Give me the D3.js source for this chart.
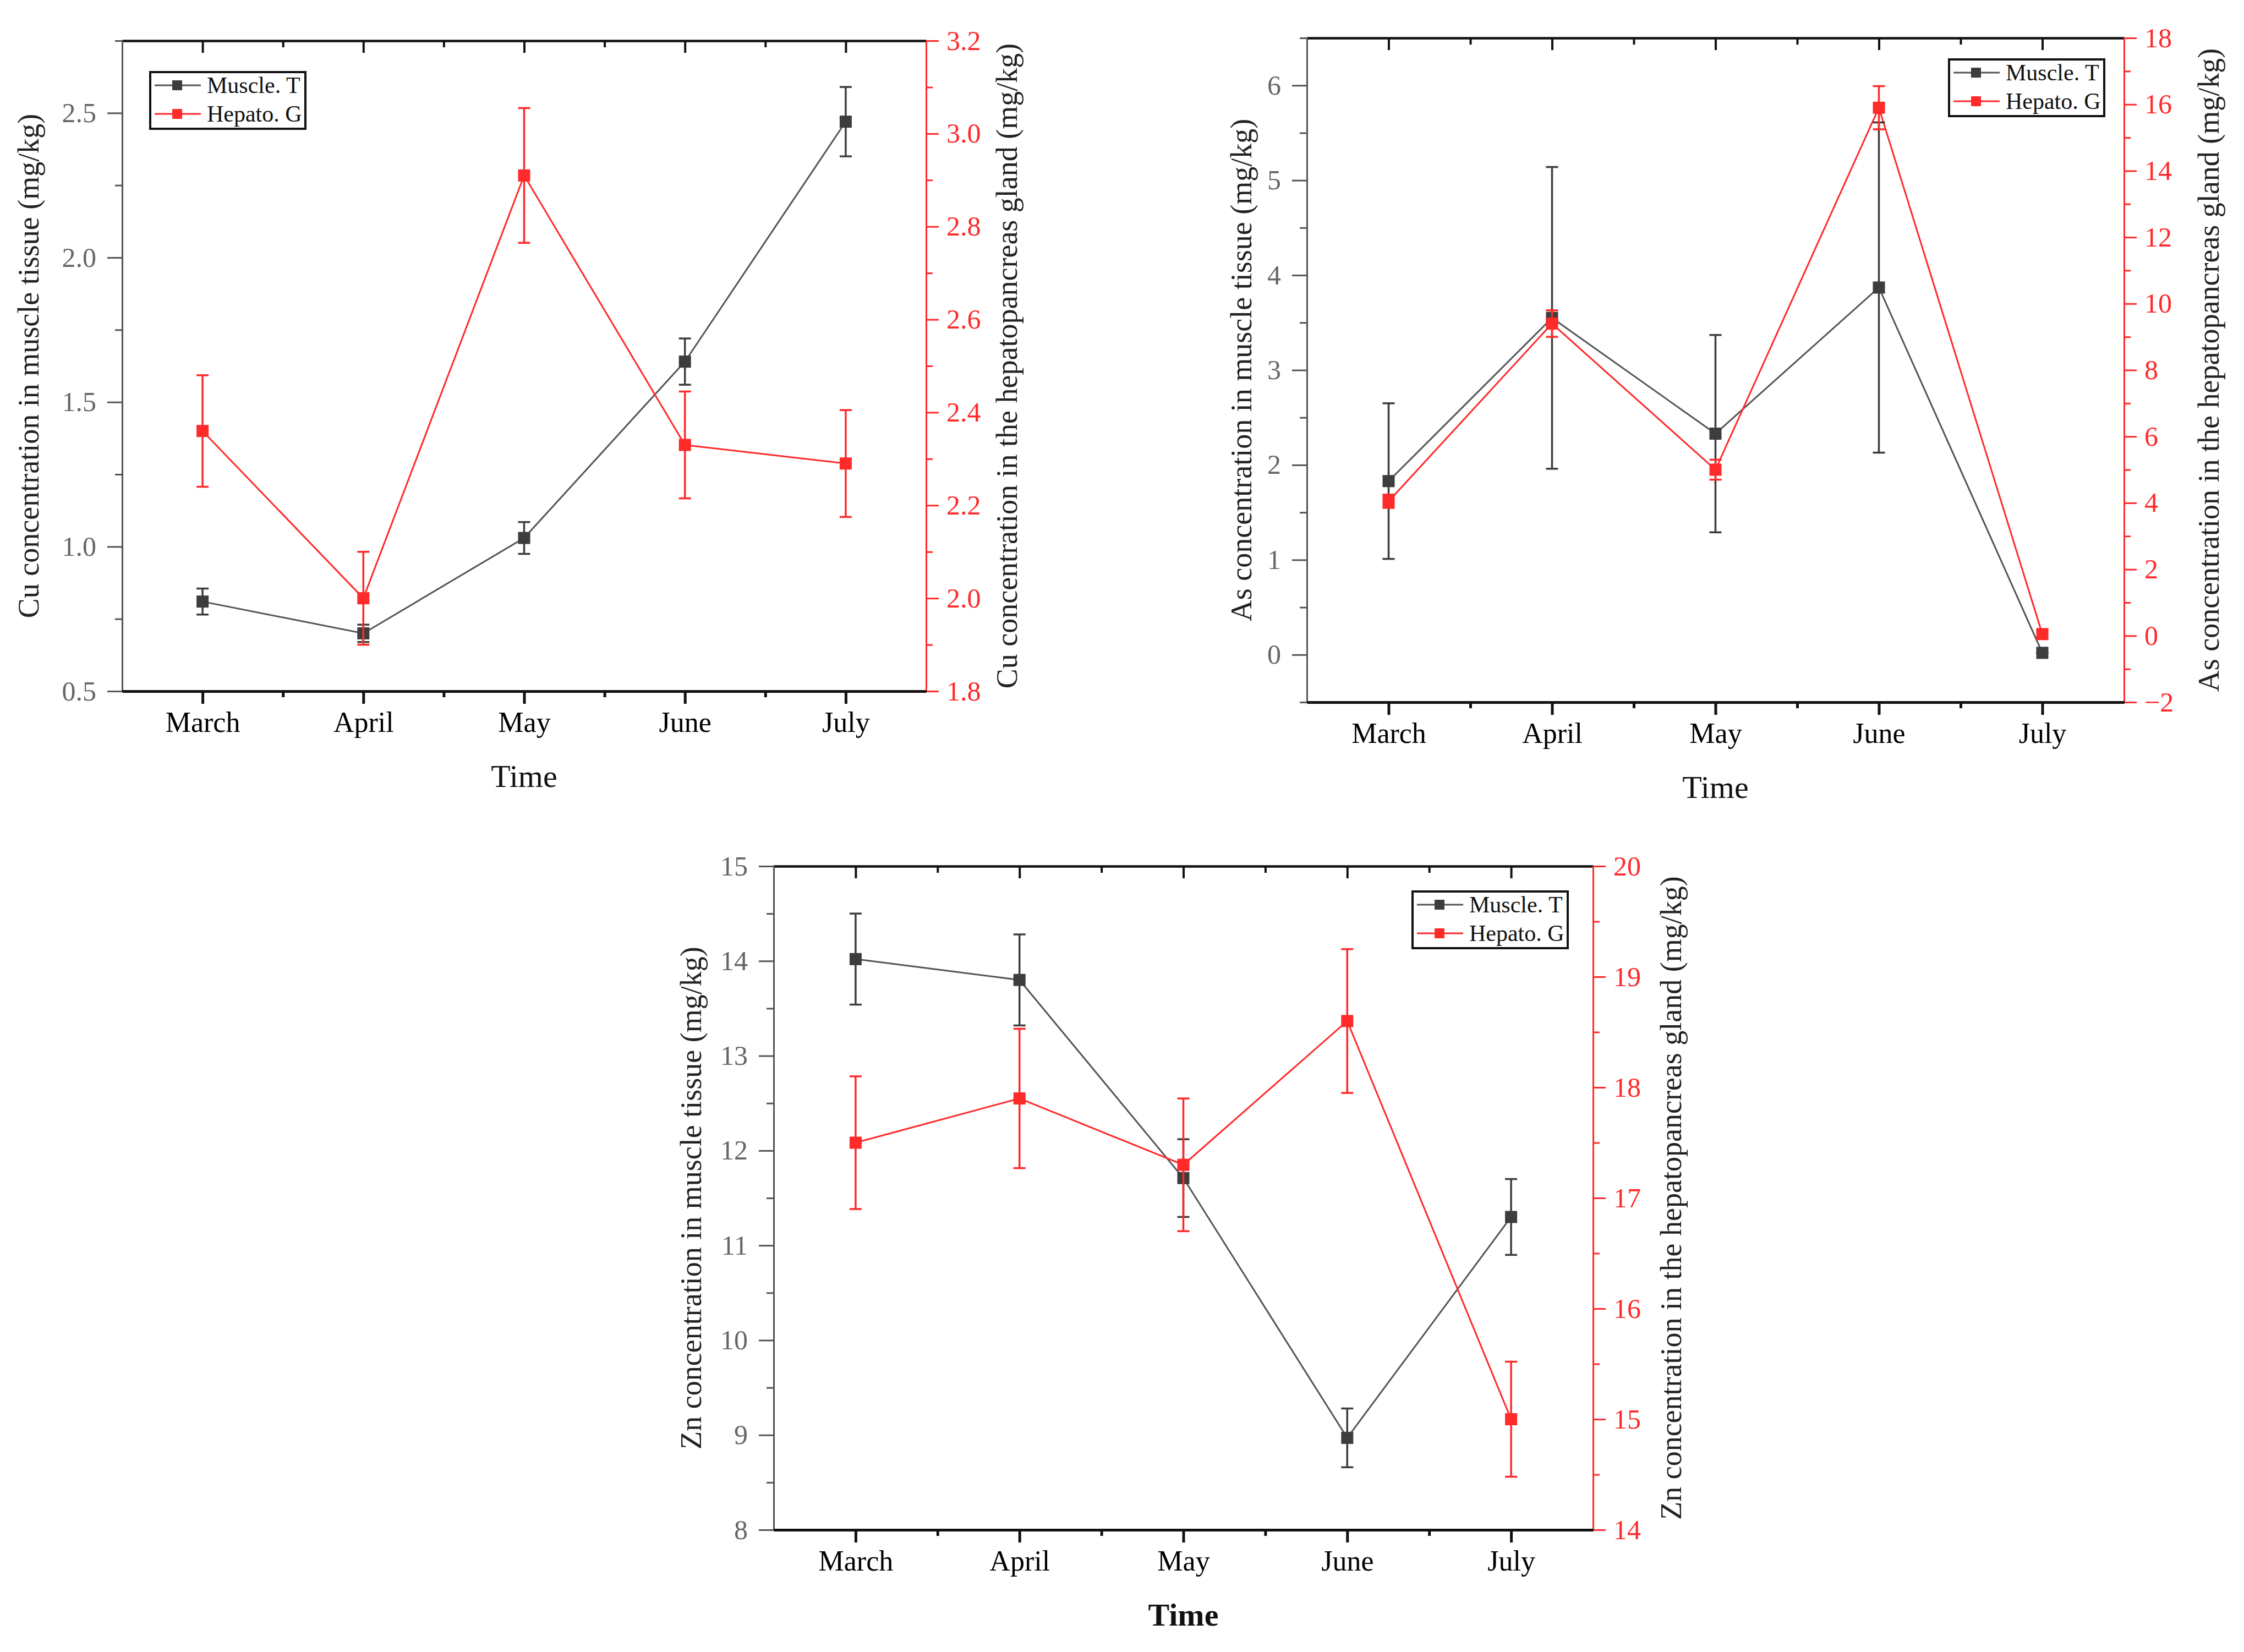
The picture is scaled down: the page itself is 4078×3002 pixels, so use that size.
<!DOCTYPE html>
<html>
<head>
<meta charset="utf-8">
<script src="https://cdn.jsdelivr.net/npm/d3@7"></script>
<style>
  body { margin: 0; background: #fff; }
  svg { display: block; }
  text { font-family: "Liberation Serif", "DejaVu Serif", serif; }
</style>
</head>
<body>
<script>
// months on the x axis
var months = ["March", "April", "May", "June", "July"];

// Cu (mg/kg)
var cuMuscle = [0.81, 0.70, 1.03, 1.64, 2.47];
var cuMuscleErr = [0.045, 0.03, 0.055, 0.08, 0.12];
var cuHepato = [2.36, 2.00, 2.91, 2.33, 2.29];
var cuHepatoErr = [0.12, 0.10, 0.145, 0.115, 0.115];

// As (mg/kg)
var asMuscle = [1.83, 3.55, 2.33, 3.87, 0.02];
var asMuscleErr = [0.82, 1.59, 1.04, 1.74, 0.0];
var asHepato = [4.05, 9.4, 5.0, 15.9, 0.05];
var asHepatoErr = [0.2, 0.4, 0.3, 0.65, 0.1];

// Zn (mg/kg)
var znMuscle = [14.02, 13.80, 11.71, 8.97, 11.30];
var znMuscleErr = [0.48, 0.48, 0.41, 0.31, 0.40];
var znHepato = [17.50, 17.90, 17.30, 18.60, 15.00];
var znHepatoErr = [0.60, 0.63, 0.60, 0.65, 0.52];

// tick values
var cuLeftTicks = [0.5, 1.0, 1.5, 2.0, 2.5];
var cuRightTicks = [1.8, 2.0, 2.2, 2.4, 2.6, 2.8, 3.0, 3.2];
var asLeftTicks = [0, 1, 2, 3, 4, 5, 6];
var asRightTicks = [-2, 0, 2, 4, 6, 8, 10, 12, 14, 16, 18];
var znLeftTicks = [8, 9, 10, 11, 12, 13, 14, 15];
var znRightTicks = [14, 15, 16, 17, 18, 19, 20];

var legendNames = ["Muscle. T", "Hepato. G"];

var grey = "#3d3d3d";
var red = "#ff2a2a";

var svg = d3.select("body").append("svg")
  .attr("width", 4078)
  .attr("height", 3002);

var panels = [
  {
    box: {left: 222, right: 1683, top: 74, bottom: 1256},
    leftDomain: [0.5, 2.75], rightDomain: [1.8, 3.2],
    leftTicks: cuLeftTicks, rightTicks: cuRightTicks,
    leftMinor: 0.25, rightMinor: 0.1, leftFmt: ".1f", rightFmt: ".1f",
    muscle: cuMuscle, muscleErr: cuMuscleErr, hepato: cuHepato, hepatoErr: cuHepatoErr,
    leftTitle: "Cu concentration in muscle tissue (mg/kg)",
    rightTitle: "Cu concentration in the hepatopancreas gland (mg/kg)",
    leftTitleX: 58, rightTitleX: 1836,
    legend: {x: 273, y: 131},
    timeBold: false
  },
  {
    box: {left: 2375, right: 3860, top: 69, bottom: 1276},
    leftDomain: [-0.5, 6.5], rightDomain: [-2, 18],
    leftTicks: asLeftTicks, rightTicks: asRightTicks,
    leftMinor: 0.5, rightMinor: 1, leftFmt: "d", rightFmt: "d",
    muscle: asMuscle, muscleErr: asMuscleErr, hepato: asHepato, hepatoErr: asHepatoErr,
    leftTitle: "As concentration in muscle tissue (mg/kg)",
    rightTitle: "As concentration in the hepatopancreas gland (mg/kg)",
    leftTitleX: 2262, rightTitleX: 4020,
    legend: {x: 3542, y: 108},
    timeBold: false
  },
  {
    box: {left: 1406, right: 2895, top: 1574, bottom: 2780},
    leftDomain: [8, 15], rightDomain: [14, 20],
    leftTicks: znLeftTicks, rightTicks: znRightTicks,
    leftMinor: 0.5, rightMinor: 0.5, leftFmt: "d", rightFmt: "d",
    muscle: znMuscle, muscleErr: znMuscleErr, hepato: znHepato, hepatoErr: znHepatoErr,
    leftTitle: "Zn concentration in muscle tissue (mg/kg)",
    rightTitle: "Zn concentration in the hepatopancreas gland (mg/kg)",
    leftTitleX: 1262, rightTitleX: 3043,
    legend: {x: 2567, y: 1620},
    timeBold: true
  }
];

panels.forEach(drawPanel);

function minorValues(domain, step, majors) {
  var out = [];
  var start = Math.ceil(domain[0] / step - 1e-9) * step;
  for (var v = start; v <= domain[1] + 1e-9; v += step) {
    var r = Math.round(v * 1000) / 1000;
    if (majors.indexOf(r) < 0) out.push(r);
  }
  return out;
}

function drawPanel(p) {
  var b = p.box;
  var g = svg.append("g");

  var x = d3.scaleLinear().domain([0.5, 5.5]).range([b.left, b.right]);
  var yL = d3.scaleLinear().domain(p.leftDomain).range([b.bottom, b.top]);
  var yR = d3.scaleLinear().domain(p.rightDomain).range([b.bottom, b.top]);
  var idx = [1, 2, 3, 4, 5];

  // top frame line with inward ticks
  var top = g.append("g").attr("transform", "translate(0," + b.top + ")")
    .call(d3.axisBottom(x).tickValues(idx).tickSize(22).tickSizeOuter(0).tickFormat(""));
  top.append("g").call(d3.axisBottom(x).tickValues([1.5, 2.5, 3.5, 4.5]).tickSize(12).tickSizeOuter(0).tickFormat(""));
  top.selectAll("path,line").attr("stroke", "#111").attr("stroke-width", 4);

  // left axis
  var la = g.append("g").attr("transform", "translate(" + b.left + ",0)");
  la.call(d3.axisLeft(yL).tickValues(p.leftTicks).tickSize(27).tickSizeOuter(0)
    .tickPadding(20).tickFormat(d3.format(p.leftFmt)));
  la.append("g").call(d3.axisLeft(yL).tickValues(minorValues(p.leftDomain, p.leftMinor, p.leftTicks))
    .tickSize(13).tickSizeOuter(0).tickFormat(""));
  la.selectAll("path,line").attr("stroke", "#555").attr("stroke-width", 3);
  la.selectAll("text").attr("font-size", 50).attr("fill", "#666");

  // right axis
  var ra = g.append("g").attr("transform", "translate(" + b.right + ",0)");
  ra.call(d3.axisRight(yR).tickValues(p.rightTicks).tickSize(23).tickSizeOuter(0)
    .tickPadding(14).tickFormat(d3.format(p.rightFmt)));
  ra.append("g").call(d3.axisRight(yR).tickValues(minorValues(p.rightDomain, p.rightMinor, p.rightTicks))
    .tickSize(12).tickSizeOuter(0).tickFormat(""));
  ra.selectAll("path,line").attr("stroke", red).attr("stroke-width", 3);
  ra.selectAll("text").attr("font-size", 50).attr("fill", red);

  // bottom axis
  var ba = g.append("g").attr("transform", "translate(0," + b.bottom + ")");
  ba.call(d3.axisBottom(x).tickValues(idx).tickSize(23).tickSizeOuter(0)
    .tickPadding(14).tickFormat(function(d) { return months[d - 1]; }));
  ba.append("g").call(d3.axisBottom(x).tickValues([1.5, 2.5, 3.5, 4.5]).tickSize(11).tickSizeOuter(0).tickFormat(""));
  ba.selectAll("path,line").attr("stroke", "#111").attr("stroke-width", 5);
  ba.selectAll("text").attr("font-size", 52).attr("fill", "#000");

  // axis titles
  g.append("text")
    .attr("transform", "translate(" + p.leftTitleX + "," + ((b.top + b.bottom) / 2) + ") rotate(-90)")
    .attr("text-anchor", "middle").attr("dominant-baseline", "middle")
    .attr("font-size", 54).attr("fill", "#222")
    .text(p.leftTitle);
  g.append("text")
    .attr("transform", "translate(" + p.rightTitleX + "," + ((b.top + b.bottom) / 2) + ") rotate(-90)")
    .attr("text-anchor", "middle").attr("dominant-baseline", "middle")
    .attr("font-size", 54).attr("fill", "#222")
    .text(p.rightTitle);
  g.append("text")
    .attr("x", x(3)).attr("y", b.bottom + 174)
    .attr("text-anchor", "middle")
    .attr("font-size", 58).attr("fill", "#111")
    .attr("font-weight", p.timeBold ? "bold" : "normal")
    .text("Time");

  // series
  var series = [
    {vals: p.muscle, err: p.muscleErr, y: yL, color: grey, lineColor: "#555"},
    {vals: p.hepato, err: p.hepatoErr, y: yR, color: red, lineColor: red}
  ];

  series.forEach(function(s) {
    var line = d3.line().x(function(d, i) { return x(i + 1); }).y(function(d) { return s.y(d); });
    g.append("path").datum(s.vals)
      .attr("d", line).attr("fill", "none")
      .attr("stroke", s.lineColor).attr("stroke-width", 3);
  });

  series.forEach(function(s) {
    var eg = g.append("g").attr("stroke", s.color).attr("stroke-width", 3.5);
    s.vals.forEach(function(v, i) {
      var cx = x(i + 1);
      var y1 = s.y(v + s.err[i]), y0 = s.y(v - s.err[i]);
      eg.append("line").attr("x1", cx).attr("x2", cx).attr("y1", y1).attr("y2", y0);
      eg.append("line").attr("x1", cx - 11).attr("x2", cx + 11).attr("y1", y1).attr("y2", y1);
      eg.append("line").attr("x1", cx - 11).attr("x2", cx + 11).attr("y1", y0).attr("y2", y0);
    });
    g.append("g").selectAll("rect").data(s.vals).enter().append("rect")
      .attr("x", function(d, i) { return x(i + 1) - 11; })
      .attr("y", function(d) { return s.y(d) - 11; })
      .attr("width", 22).attr("height", 22)
      .attr("fill", s.color);
  });

  // legend
  var lg = g.append("g").attr("transform", "translate(" + p.legend.x + "," + p.legend.y + ")");
  lg.append("rect").attr("width", 282).attr("height", 103)
    .attr("fill", "#fff").attr("stroke", "#111").attr("stroke-width", 4);
  [grey, red].forEach(function(c, i) {
    var cy = 24 + i * 52;
    lg.append("line").attr("x1", 8).attr("x2", 92).attr("y1", cy).attr("y2", cy)
      .attr("stroke", i === 0 ? "#555" : red).attr("stroke-width", 3);
    lg.append("rect").attr("x", 40).attr("y", cy - 9).attr("width", 18).attr("height", 18).attr("fill", c);
    lg.append("text").attr("x", 103).attr("y", cy + 14)
      .attr("font-size", 42).attr("fill", "#111")
      .text(legendNames[i]);
  });
}
</script>
</body>
</html>
